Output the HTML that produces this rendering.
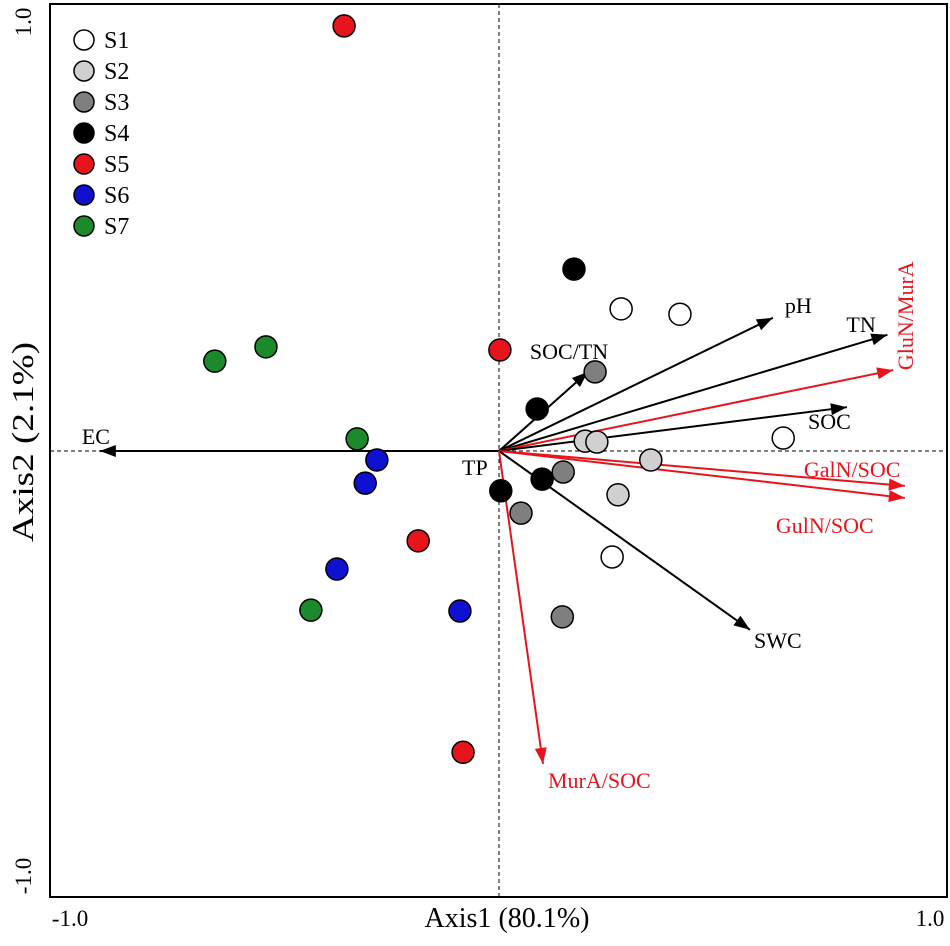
<!DOCTYPE html>
<html><head><meta charset="utf-8"><style>
body{margin:0;background:#fff}
svg{display:block;font-family:"Liberation Serif",serif}
</style></head><body>
<svg id="chart" width="950" height="946" viewBox="0 0 950 946">
<rect x="50" y="4" width="897" height="893" fill="none" stroke="#000" stroke-width="2"/>
<g id="axes"></g>
<g id="arrows"></g>
<g id="points"></g>
<g id="legend"></g>
<text x="507" y="927" font-size="29" text-anchor="middle" textLength="165" lengthAdjust="spacingAndGlyphs">Axis1 (80.1%)</text>
<text x="70" y="926" font-size="23" text-anchor="middle">-1.0</text>
<text x="930" y="926" font-size="23" text-anchor="middle">1.0</text>
<text transform="translate(33,442) rotate(-90)" font-size="31" text-anchor="middle" textLength="200" lengthAdjust="spacingAndGlyphs">Axis2 (2.1%)</text>
<text transform="translate(31,22) rotate(-90)" font-size="23" text-anchor="middle">1.0</text>
<text transform="translate(31,876) rotate(-90)" font-size="23" text-anchor="middle">-1.0</text>
</svg>
<script>
const groups=["S1","S2","S3","S4","S5","S6","S7"];
const groupColors=["#ffffff","#d0d0d0","#7f7f7f","#000000","#e8141c","#1010d0","#1a8a2a"];
const xS1=[0.272,0.403,0.633,0.252], yS1=[0.318,0.306,0.029,-0.237];
const xS2=[0.192,0.218,0.338,0.265], yS2=[0.022,0.020,-0.020,-0.098];
const xS3=[0.214,0.143,0.049,0.141], yS3=[0.177,-0.047,-0.139,-0.371];
const xS4=[0.167,0.085,0.096,0.004], yS4=[0.407,0.094,-0.063,-0.089];
const xS5=[-0.345,0.002,-0.180,-0.080], yS5=[0.951,0.226,-0.201,-0.674];
const xS6=[-0.272,-0.298,-0.361,-0.087], yS6=[-0.020,-0.072,-0.264,-0.358];
const xS7=[-0.633,-0.519,-0.316,-0.419], yS7=[0.201,0.233,0.027,-0.356];
const varNames=["EC","SOC/TN","pH","TN","GluN/MurA","SOC","GalN/SOC","GulN/SOC","SWC","MurA/SOC"];
const varX=[-0.889,0.198,0.610,0.865,0.878,0.775,0.904,0.904,0.559,0.098];
const varY=[0,0.177,0.298,0.260,0.181,0.098,-0.078,-0.105,-0.400,-0.700];
const varRed=[0,0,0,0,1,0,1,1,0,1];
const NS="http://www.w3.org/2000/svg";
const sx=v=>499+v*449, sy=v=>451-v*447;
function mk(t,a,p){const e=document.createElementNS(NS,t);for(const k in a)e.setAttribute(k,a[k]);p.appendChild(e);return e;}
const axes=document.getElementById('axes');
let l=mk('line',{x1:50,x2:947,y1:sy(0),y2:sy(0),stroke:'#000','stroke-dasharray':'4,3','stroke-width':1},axes);


l=mk('line',{x1:sx(0),x2:sx(0),y1:4,y2:897,stroke:'#000','stroke-dasharray':'4,3','stroke-width':1},axes);


const ar=document.getElementById('arrows');
const lblOff={"EC":[-18,-14,"start"],"SOC/TN":[-58,-20,"start"],"pH":[12,-12,"start"],"TN":[-41,-10,"start"],"SOC":[-39,15,"start"],"GalN/SOC":[-101,-16,"start"],"GulN/SOC":[-129,28,"start"],"SWC":[4,11,"start"],"MurA/SOC":[5,17,"start"]};
varNames.forEach((n,i)=>{
 const c=varRed[i]?'#e8141c':'#000';
 const x2=sx(varX[i]),y2=sy(varY[i]),x1=sx(0),y1=sy(0);
 const g=mk('g',{},ar);
 
 
 mk('line',{x1,y1,x2,y2,stroke:c,'stroke-width':2},g);
 const ang=Math.atan2(y2-y1,x2-x1),L=16,W=6;
 const bx=x2-L*Math.cos(ang),by=y2-L*Math.sin(ang);
 mk('polygon',{points:`${x2},${y2} ${bx-W*Math.sin(ang)},${by+W*Math.cos(ang)} ${bx+W*Math.sin(ang)},${by-W*Math.cos(ang)}`,fill:c},g);
 if(n==="GluN/MurA"){
  const t=mk('text',{transform:`translate(${x2+20},${y2}) rotate(-90)`,'font-size':22,fill:c},g);t.textContent=n;
 }else{
  const o=lblOff[n];const t=mk('text',{x:x2+o[0],y:y2+o[1]+7,'font-size':22,fill:c,'text-anchor':o[2]},g);t.textContent=n;
 }
});
const tp=mk('text',{x:462,y:475,'font-size':22},ar);tp.textContent='TP';


const pts=document.getElementById('points');
const X=[xS1,xS2,xS3,xS4,xS5,xS6,xS7],Y=[yS1,yS2,yS3,yS4,yS5,yS6,yS7];
groups.forEach((g,gi)=>{X[gi].forEach((v,j)=>{
 const c=mk('circle',{cx:sx(v),cy:sy(Y[gi][j]),r:11,fill:groupColors[gi],stroke:'#000','stroke-width':1.5},pts);
 
 
});});
const lg=document.getElementById('legend');
groups.forEach((g,i)=>{
 const e=mk('g',{},lg);
 
 
 mk('circle',{cx:84,cy:40+i*31,r:10,fill:groupColors[i],stroke:'#000','stroke-width':1.5},e);
 const t=mk('text',{x:104,y:48+i*31,'font-size':24},e);t.textContent=g;
});
</script>
</body></html>
